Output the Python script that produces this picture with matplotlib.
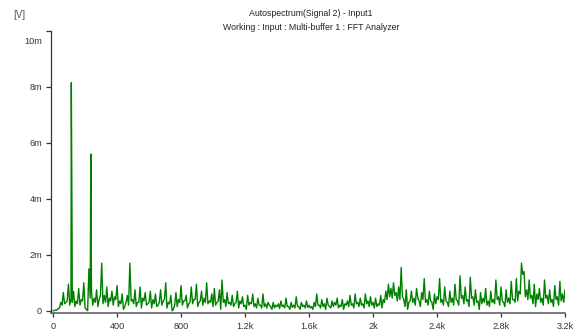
import numpy as np
import matplotlib
matplotlib.use("Agg")
import matplotlib.pyplot as plt

plt.rcParams["font.family"] = ["Liberation Sans", "DejaVu Sans"]

# spectrum, values in mV
# base_mv at 0, 16, 32 ... Hz, mid_mv at 8, 24, 40 ... Hz
step_hz = 16
base_mv = [
    0.00, 0.03, 0.08, 0.30, 0.65, 0.30, 0.95, 0.45, 0.70, 0.35,
    0.80, 0.40, 1.00, 0.05, 1.50, 0.70, 0.45, 0.75, 0.40, 1.70,
    0.55, 0.85, 0.45, 0.70, 0.50, 0.90, 0.35, 0.60, 0.15, 0.55,
    1.70, 0.40, 0.75, 0.30, 0.85, 0.45, 0.65, 0.25, 0.70, 0.40,
    0.60, 0.20, 0.75, 0.35, 1.00, 0.30, 0.55, 0.05, 0.65, 0.40,
    0.90, 0.35, 0.55, 0.25, 0.85, 0.40, 0.95, 0.30, 0.70, 0.45,
    1.00, 0.35, 0.60, 0.80, 0.30, 0.75, 1.10, 0.40, 0.65, 0.30,
    0.55, 0.25, 0.70, 0.35, 0.50, 0.20, 0.55, 0.30, 0.60, 0.25,
    0.45, 0.20, 0.60, 0.25, 0.30, 0.15, 0.30, 0.20, 0.25, 0.35,
    0.20, 0.45, 0.15, 0.30, 0.20, 0.50, 0.15, 0.30, 0.20, 0.35,
    0.20, 0.15, 0.30, 0.60, 0.20, 0.40, 0.25, 0.45, 0.15, 0.35,
    0.30, 0.45, 0.20, 0.40, 0.25, 0.35, 0.55, 0.25, 0.60, 0.30,
    0.45, 0.25, 0.60, 0.35, 0.50, 0.30, 0.45, 0.25, 0.55, 0.40,
    0.70, 0.95, 0.80, 1.00, 0.65, 0.85, 1.55, 0.40, 0.75, 0.30,
    0.70, 0.45, 0.80, 0.35, 0.65, 1.15, 0.40, 0.70, 0.30, 0.60,
    0.50, 1.15, 0.40, 0.85, 0.30, 0.70, 0.45, 0.95, 0.35, 1.25,
    0.55, 0.85, 0.40, 1.20, 0.50, 0.75, 0.35, 0.65, 0.45, 0.80,
    0.35, 0.70, 0.40, 1.10, 0.50, 0.85, 0.30, 0.75, 0.45, 1.05,
    0.40, 1.15, 0.70, 1.70, 1.40, 0.75, 1.10, 0.55, 0.95, 0.60,
    0.80, 0.45, 1.10, 0.55, 0.75, 0.40, 0.90, 0.50, 1.05, 0.60,
    0.75,
]
mid_mv = [
    0.01, 0.02, 0.10, 0.20, 0.25, 0.35, 0.20, 0.30, 0.15, 0.25,
    0.20, 0.35, 0.10, 0.00, 0.45, 0.20, 0.30, 0.15, 0.55, 0.25,
    0.30, 0.15, 0.35, 0.20, 0.40, 0.15, 0.25, 0.05, 0.30, 0.20,
    0.35, 0.25, 0.15, 0.30, 0.10, 0.35, 0.20, 0.30, 0.10, 0.25,
    0.15, 0.30, 0.20, 0.40, 0.10, 0.25, 0.00, 0.20, 0.15, 0.30,
    0.20, 0.35, 0.10, 0.30, 0.25, 0.40, 0.15, 0.35, 0.20, 0.30,
    0.25, 0.30, 0.15, 0.20, 0.35, 0.05, 0.30, 0.15, 0.25, 0.20,
    0.15, 0.30, 0.10, 0.25, 0.15, 0.05, 0.20, 0.25, 0.15, 0.10,
    0.20, 0.10, 0.15, 0.10, 0.20, 0.05, 0.10, 0.15, 0.08, 0.15,
    0.10, 0.15, 0.05, 0.12, 0.10, 0.15, 0.05, 0.15, 0.10, 0.12,
    0.10, 0.05, 0.15, 0.20, 0.10, 0.15, 0.05, 0.20, 0.10, 0.15,
    0.20, 0.10, 0.15, 0.05, 0.20, 0.15, 0.20, 0.10, 0.25, 0.15,
    0.20, 0.10, 0.25, 0.15, 0.20, 0.10, 0.15, 0.20, 0.10, 0.30,
    0.40, 0.50, 0.45, 0.55, 0.35, 0.40, 0.50, 0.15, 0.05, 0.35,
    0.30, 0.20, 0.45, 0.15, 0.40, 0.30, 0.20, 0.35, 0.05, 0.25,
    0.40, 0.30, 0.20, 0.35, 0.15, 0.30, 0.20, 0.40, 0.20, 0.45,
    0.25, 0.35, 0.15, 0.45, 0.20, 0.30, 0.05, 0.25, 0.30, 0.20,
    0.15, 0.30, 0.25, 0.40, 0.20, 0.35, 0.15, 0.30, 0.25, 0.40,
    0.30, 0.35, 0.60, 1.30, 0.50, 0.40, 0.45, 0.25, 0.15, 0.40,
    0.30, 0.20, 0.45, 0.25, 0.30, 0.15, 0.40, 0.20, 0.35, 0.30,
]

# narrow peaks between the grid points
peak_hz = [114, 119, 236]
peak_mv = [8.15, 2.35, 5.60]

yticks = [0, 2, 4, 6, 8, 10]
ytick_labels = ["0", "2m", "4m", "6m", "8m", ""]
xticks = [0, 400, 800, 1200, 1600, 2000, 2400, 2800, 3200]
xtick_labels = ["0", "400", "800", "1.2k", "1.6k", "2k", "2.4k", "2.8k", "3.2k"]

base_hz = np.arange(len(base_mv)) * step_hz
mid_hz = np.arange(len(mid_mv)) * step_hz + step_hz / 2
freq = np.concatenate([base_hz, mid_hz, peak_hz])
amp = np.concatenate([base_mv, mid_mv, peak_mv])
order = np.argsort(freq)
freq, amp = freq[order], amp[order]

fig = plt.figure(figsize=(5.77, 3.35), dpi=100)
ax = fig.add_axes([51 / 577, 1 - 313 / 335, (565 - 51) / 577, (313 - 31) / 335])

ax.plot(freq, amp, color="#008000", lw=1.0)

ax.set_xlim(-13, 3200)
ax.set_ylim(-0.08, 10)
for s in ["top", "right"]:
    ax.spines[s].set_visible(False)
ax.spines["left"].set_color("#333333")
ax.spines["bottom"].set_color("#555555")
ax.spines["left"].set_linewidth(0.9)
ax.spines["bottom"].set_linewidth(1.1)

ax.set_yticks(yticks)
ax.set_yticklabels(ytick_labels)
ax.set_xticks(xticks)
ax.set_xticklabels(xtick_labels)
ax.tick_params(axis="y", length=3.6, width=0.9, pad=2.8, labelsize=6.6,
               colors="#333333")
ax.tick_params(axis="x", length=3, width=0.9, pad=3.5, labelsize=6.6,
               colors="#333333")

# top label sits below its tick in the original
ax.annotate("10m", xy=(0, 10), xycoords=("axes fraction", "data"),
            xytext=(-6.5, -7.7), textcoords="offset points",
            ha="right", va="center", fontsize=6.6, color="#333333")

fig.text(13 / 577, 1 - 15 / 335, "[V]", ha="left", va="center",
         fontsize=7, color="#555555")
fig.text(311 / 577, 1 - 13 / 335, "Autospectrum(Signal 2) - Input1",
         ha="center", va="center", fontsize=6.3, color="#222222")
fig.text(311 / 577, 1 - 27 / 335, "Working : Input : Multi-buffer 1 : FFT Analyzer",
         ha="center", va="center", fontsize=6.3, color="#222222")

fig.savefig("out.png", dpi=100)
